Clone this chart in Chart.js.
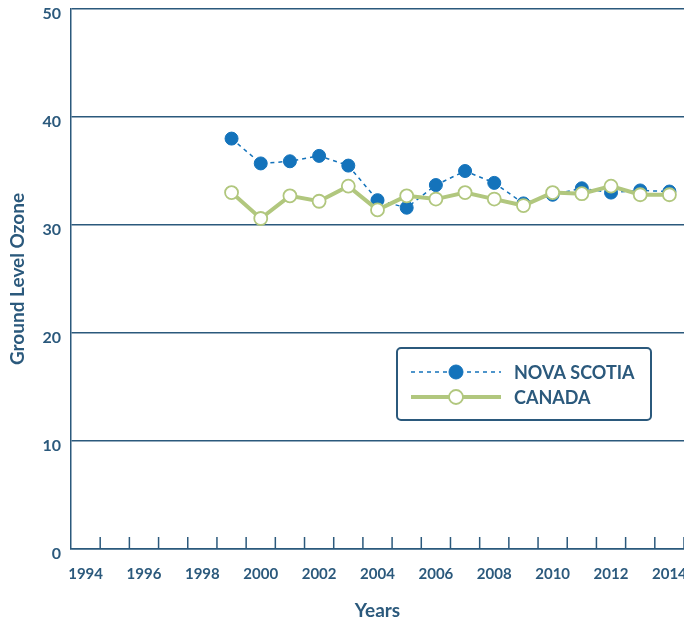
<!DOCTYPE html>
<html>
<head>
<meta charset="utf-8">
<script src="https://cdn.jsdelivr.net/npm/chart.js@4.4.1/dist/chart.umd.min.js"></script>
<style>
  html, body { margin: 0; padding: 0; background: #fff; }
  #wrap { width: 684px; height: 622px; position: relative; }
</style>
</head>
<body>
<div id="wrap"><canvas id="ozoneChart" width="684" height="622"></canvas></div>
<script>
// DATA
var years = ['1994','1995','1996','1997','1998','1999','2000','2001','2002','2003','2004',
             '2005','2006','2007','2008','2009','2010','2011','2012','2013','2014'];
var novaScotia = [null, null, null, null, null,
  38.0, 35.7, 35.9, 36.4, 35.5, 32.3, 31.6, 33.7, 35.0, 33.9, 32.0, 32.8, 33.4, 33.0, 33.2, 33.1];
var canada = [null, null, null, null, null,
  33.0, 30.6, 32.7, 32.2, 33.6, 31.4, 32.7, 32.4, 33.0, 32.4, 31.8, 33.0, 32.9, 33.6, 32.8, 32.8];
var yTicks = [0, 10, 20, 30, 40, 50];

var navy = '#2b597c';
var blue = '#1473bb';
var green = '#b1c77e';
var fontFam = 'Lato, "Noto Sans", sans-serif';

// small tick marks pointing up from the x axis, between the years
var innerTicks = {
  id: 'innerTicks',
  afterDraw: function(chart) {
    var ctx = chart.ctx;
    var x = chart.scales.x;
    var bottom = chart.chartArea.bottom;
    ctx.save();
    ctx.strokeStyle = navy;
    ctx.lineWidth = 1.5;
    for (var i = 0; i < years.length; i++) {
      var px = x.getPixelForValue(i + 0.5);
      ctx.beginPath();
      ctx.moveTo(px, bottom);
      ctx.lineTo(px, bottom - 12);
      ctx.stroke();
    }
    ctx.restore();
  }
};

// boxed legend sitting inside the plot
var boxLegend = {
  id: 'boxLegend',
  afterDraw: function(chart) {
    var ctx = chart.ctx;
    var bx = 397, by = 348, bw = 254, bh = 72;
    ctx.save();
    ctx.fillStyle = '#fff';
    ctx.strokeStyle = navy;
    ctx.lineWidth = 2;
    ctx.beginPath();
    ctx.roundRect(bx, by, bw, bh, 4);
    ctx.fill();
    ctx.stroke();

    var rows = [
      { label: 'NOVA SCOTIA', y: 372, ds: chart.data.datasets[1] },
      { label: 'CANADA', y: 397, ds: chart.data.datasets[0] }
    ];
    rows.forEach(function(r) {
      var ds = r.ds;
      ctx.strokeStyle = ds.borderColor;
      ctx.lineWidth = ds.borderWidth;
      ctx.setLineDash(ds.borderDash || []);
      ctx.beginPath();
      ctx.moveTo(411, r.y);
      ctx.lineTo(501, r.y);
      ctx.stroke();
      ctx.setLineDash([]);
      ctx.beginPath();
      ctx.arc(456, r.y, 7, 0, Math.PI * 2);
      ctx.fillStyle = ds.pointBackgroundColor;
      ctx.fill();
      ctx.lineWidth = ds.pointBorderWidth;
      ctx.strokeStyle = ds.pointBorderColor;
      ctx.stroke();
      ctx.fillStyle = navy;
      ctx.font = 'bold 18px ' + fontFam;
      ctx.textBaseline = 'middle';
      ctx.textAlign = 'left';
      ctx.fillText(r.label, 514, r.y + 1);
    });
    ctx.restore();
  }
};

const ozoneChart = new Chart('ozoneChart', {
  type: 'line',
  data: {
    labels: years,
    datasets: [{
      label: 'CANADA',
      data: canada,
      borderColor: green,
      borderWidth: 4,
      pointRadius: 6.5,
      pointBackgroundColor: '#fff',
      pointBorderColor: green,
      pointBorderWidth: 1.8,
      tension: 0
    }, {
      label: 'NOVA SCOTIA',
      data: novaScotia,
      borderColor: blue,
      borderWidth: 1.5,
      borderDash: [4, 4],
      pointRadius: 6.5,
      pointBackgroundColor: blue,
      pointBorderColor: blue,
      pointBorderWidth: 1,
      tension: 0
    }]
  },
  options: {
    responsive: false,
    animation: false,
    layout: { autoPadding: false, padding: { top: 9, right: 0, left: 0, bottom: 0 } },
    plugins: {
      legend: { display: false },
      tooltip: { enabled: false }
    },
    scales: {
      x: {
        offset: true,
        grid: { display: false },
        border: { display: true, color: navy, width: 1.5 },
        ticks: {
          autoSkip: false,
          maxRotation: 0,
          padding: 8,
          color: navy,
          font: { family: fontFam, size: 15, weight: 'bold' },
          callback: function(v, i) { return (+years[i]) % 2 === 0 ? years[i] : ''; }
        },
        title: {
          display: true,
          text: 'Years',
          color: navy,
          font: { family: fontFam, size: 19, weight: 'bold' },
          padding: { top: 16, bottom: 0 }
        },
        afterFit: function(s) {
          s.height = 73;
          s.paddingLeft = 0;
          s.paddingRight = 0;
        }
      },
      y: {
        min: 0,
        max: 50,
        afterBuildTicks: function(s) { s.ticks = yTicks.map(function(v) { return { value: v }; }); },
        grid: { color: navy, lineWidth: 1.5, drawTicks: false },
        border: { display: true, color: navy, width: 1.5 },
        ticks: {
          padding: 10,
          labelOffset: 5,
          color: navy,
          font: { family: fontFam, size: 16, weight: 'bold' }
        },
        title: {
          display: true,
          text: 'Ground Level Ozone',
          color: navy,
          font: { family: fontFam, size: 19, weight: 'bold' },
          padding: { top: 6, bottom: 0 }
        },
        afterFit: function(s) {
          s.width = 71;
          s.paddingTop = 0;
          s.paddingBottom = 0;
        }
      }
    }
  },
  plugins: [innerTicks, boxLegend]
});
</script>
</body>
</html>
